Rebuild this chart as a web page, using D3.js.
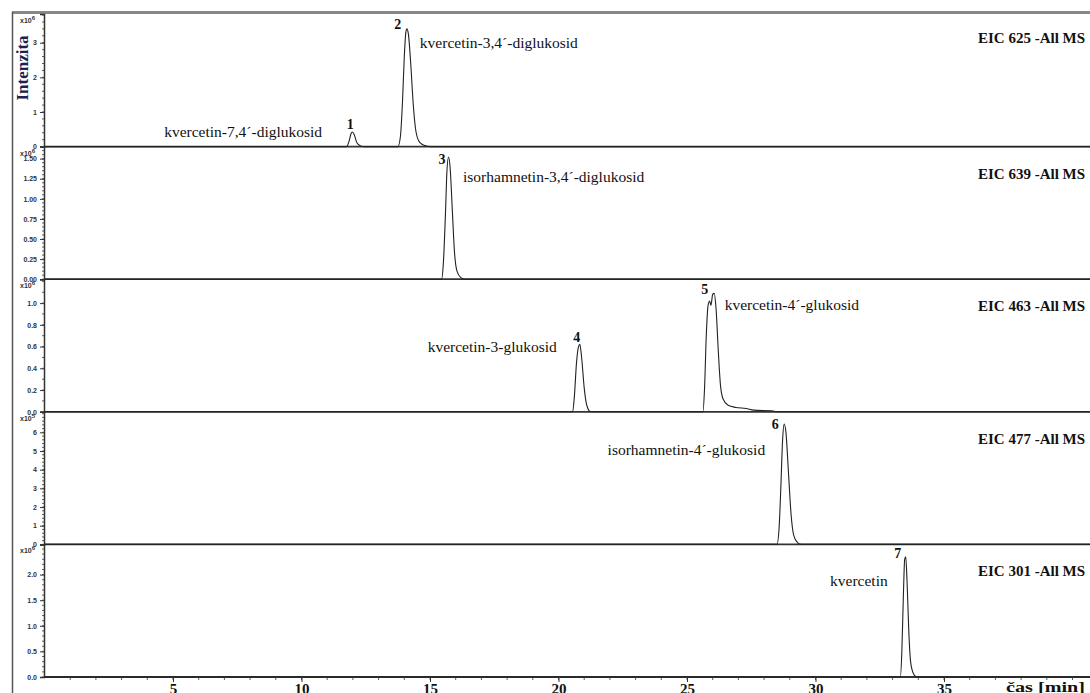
<!DOCTYPE html>
<html>
<head>
<meta charset="utf-8">
<script src="https://cdn.jsdelivr.net/npm/d3@7"></script>
<style>
  body { margin: 0; background: #fff; }
  svg { display: block; }
</style>
</head>
<body>
<div id="chart"></div>
<script>
// EIC traces, [time min, intensity in panel units]
const eic625 = [[0,0],[11.75,0],[11.85,0.15],[11.93,0.38],[11.98,0.42],[12.05,0.35],[12.15,0.12],[12.3,0.02],[12.45,0],
  [13.75,0],[13.85,0.3],[13.93,1.3],[14.0,2.6],[14.06,3.3],[14.1,3.4],[14.16,3.25],[14.25,2.4],[14.35,1.2],[14.45,0.45],[14.6,0.12],[14.8,0.03],[15.0,0],[41,0]];
const eic639 = [[0,0],[15.45,0],[15.52,0.2],[15.6,0.8],[15.66,1.35],[15.72,1.52],[15.78,1.4],[15.87,0.85],[15.95,0.35],[16.05,0.1],[16.2,0.02],[16.35,0],[41,0]];
const eic463 = [[0,0],[20.55,0],[20.62,0.15],[20.7,0.45],[20.78,0.6],[20.83,0.62],[20.9,0.5],[21.0,0.22],[21.1,0.06],[21.25,0],
  [25.62,0],[25.68,0.2],[25.75,0.7],[25.82,0.98],[25.88,1.02],[25.93,0.98],[26.0,1.08],[26.06,1.09],[26.13,0.95],[26.22,0.55],[26.3,0.25],[26.4,0.12],[26.6,0.06],[26.9,0.04],[27.3,0.03],[27.6,0.015],[28.3,0.01],[28.5,0],[41,0]];
const eic477 = [[0,0],[28.5,0],[28.58,0.8],[28.65,3.0],[28.72,5.6],[28.78,6.45],[28.85,6.0],[28.95,3.8],[29.05,1.6],[29.15,0.5],[29.3,0.1],[29.45,0],[41,0]];
const eic301 = [[0,0],[33.3,0],[33.36,0.5],[33.42,1.6],[33.47,2.3],[33.51,2.35],[33.56,1.9],[33.63,0.9],[33.7,0.3],[33.8,0.08],[33.95,0],[41,0]];

const traces = [eic625, eic639, eic463, eic477, eic301];
const eicTitles = ['EIC 625 -All MS', 'EIC 639 -All MS', 'EIC 463 -All MS', 'EIC 477 -All MS', 'EIC 301 -All MS'];
const yMaxes = [3.83, 1.65, 1.22, 7.1, 2.59];
const yMajorTicks = [[0,1,2,3], [0,0.25,0.5,0.75,1,1.25,1.5], [0,0.2,0.4,0.6,0.8,1.0], [0,1,2,3,4,5,6], [0,0.5,1,1.5,2]];
const yTickFormats = ['d', '.2f', '.1f', 'd', '.1f'];
const yMinorSteps = [0.2, 0.05, 0.1, 0.2, 0.1];
const exponents = ['6', '6', '6', '5', '6'];

// peaks
const peakNums = ['1','2','3','4','5','6','7'];
const peakPanels = [0, 0, 1, 2, 2, 3, 4];
const peakTimes = [11.97, 14.1, 15.72, 20.83, 26.0, 28.78, 33.51];
const peakValues = [0.42, 3.4, 1.52, 0.62, 1.09, 6.45, 2.35];
const peakNames = ['kvercetin-7,4´-diglukosid', 'kvercetin-3,4´-diglukosid', 'isorhamnetin-3,4´-diglukosid',
  'kvercetin-3-glukosid', 'kvercetin-4´-glukosid', 'isorhamnetin-4´-glukosid', 'kvercetin'];

const xTicks = [5, 10, 15, 20, 25, 30, 35];

// annotation placement relative to each peak apex (layout only)
const numOffset = [[-2,-3.5],[-9,0],[-6.5,7],[-3,-2.5],[-8,0.5],[-9,5],[-8,1]];
const nameOffset = [[-30,4.5],[13,19],[14.5,25],[-23,7.5],[12,16.5],[-19,31.5],[-18,29]];

const width = 1090, height = 693;
const plotLeft = 44, plotTop = 14, panelH = 132.6;
const serif = '"Liberation Serif", "Times New Roman", serif';
const sans = 'Arial, "Liberation Sans", sans-serif';

const svg = d3.select('#chart').append('svg')
  .attr('width', width)
  .attr('height', height);

svg.append('rect').attr('width', width).attr('height', height).attr('fill', '#fff');

const x = d3.scaleLinear().domain([0, 41]).range([plotLeft + 0.5, plotLeft + 0.5 + 41 * 25.7]);

// outer frame
svg.append('line').attr('x1', 12).attr('x2', width).attr('y1', 12.5).attr('y2', 12.5)
  .attr('stroke', '#888').attr('stroke-width', 3);
svg.append('line').attr('x1', 12.5).attr('x2', 12.5).attr('y1', 12).attr('y2', height)
  .attr('stroke', '#555').attr('stroke-width', 1.5);

const yScales = traces.map((data, i) => {
  const y0 = plotTop + panelH * (i + 1);
  return d3.scaleLinear().domain([0, yMaxes[i]]).range([y0, y0 - panelH]);
});

traces.forEach((data, i) => {
  const y = yScales[i];
  const y0 = y(0);
  const g = svg.append('g');

  // baseline / panel separator
  g.append('line').attr('x1', plotLeft).attr('x2', width).attr('y1', y0).attr('y2', y0)
    .attr('stroke', '#333').attr('stroke-width', 1.8);

  // y axis
  const axis = d3.axisLeft(y).tickValues(yMajorTicks[i]).tickSize(4).tickPadding(3)
    .tickFormat(d3.format(yTickFormats[i]));
  const ag = g.append('g').attr('transform', `translate(${plotLeft},0)`).call(axis);
  ag.select('.domain').attr('stroke', '#333').attr('stroke-width', 1.5);
  ag.selectAll('.tick line').attr('stroke', '#333');
  ag.selectAll('.tick text')
    .attr('font-family', sans)
    .attr('font-weight', 'bold').attr('font-size', 7).attr('fill', '#333');

  const minor = d3.range(0, yMaxes[i], yMinorSteps[i]);
  g.selectAll('.minor').data(minor).join('line')
    .attr('x1', plotLeft - 2).attr('x2', plotLeft)
    .attr('y1', d => y(d)).attr('y2', d => y(d))
    .attr('stroke', '#333').attr('stroke-width', 0.8);

  // exponent
  const ex = g.append('text').attr('x', 20).attr('y', y0 - panelH + 9)
    .attr('font-family', sans)
    .attr('font-weight', 'bold').attr('font-size', 7).attr('fill', '#333');
  ex.append('tspan').text('x10');
  ex.append('tspan').attr('dy', -3).attr('font-size', 6).text(exponents[i]);

  // trace
  const line = d3.line().x(d => x(d[0])).y(d => y(d[1])).curve(d3.curveMonotoneX);
  g.append('path').datum(data).attr('d', line)
    .attr('fill', 'none').attr('stroke', '#222').attr('stroke-width', 1.1);

  // EIC title
  g.append('text').attr('x', 978).attr('y', y0 - panelH + (i === 0 ? 29 : 32))
    .attr('font-family', serif).attr('font-weight', 'bold').attr('font-size', 15)
    .attr('fill', '#111').text(eicTitles[i]);
});

// peak annotations
peakNums.forEach((n, k) => {
  const y = yScales[peakPanels[k]];
  const px = x(peakTimes[k]), py = y(peakValues[k]);
  svg.append('text')
    .attr('x', px + numOffset[k][0]).attr('y', py + numOffset[k][1])
    .attr('text-anchor', 'middle')
    .attr('font-family', serif).attr('font-weight', 'bold').attr('font-size', 14)
    .attr('fill', '#111').text(n);
  const dx = nameOffset[k][0];
  svg.append('text')
    .attr('x', px + dx)
    .attr('y', py + nameOffset[k][1])
    .attr('text-anchor', dx > 0 ? 'start' : 'end')
    .attr('font-family', serif).attr('font-size', 15.5)
    .attr('fill', '#111').text(peakNames[k]);
});

// x axis at bottom
const xAxisPos = plotTop + panelH * 5;
const xg = svg.append('g').attr('transform', `translate(0,${xAxisPos})`)
  .call(d3.axisBottom(x).tickValues(xTicks).tickSize(5).tickPadding(1).tickFormat(d3.format('d')));
xg.select('.domain').remove();
xg.selectAll('.tick line').attr('stroke', '#333');
xg.selectAll('.tick text').attr('font-family', serif).attr('font-weight', 'bold')
  .attr('font-size', 15).attr('fill', '#111');
svg.selectAll('.xminor').data(d3.range(1, 41)).join('line')
  .attr('x1', d => x(d)).attr('x2', d => x(d))
  .attr('y1', xAxisPos).attr('y2', xAxisPos + 3)
  .attr('stroke', '#333').attr('stroke-width', 0.8);

svg.append('text').attr('x', 1006).attr('y', xAxisPos + 15)
  .attr('font-family', serif).attr('font-weight', 'bold').attr('font-size', 15)
  .attr('textLength', 79).attr('lengthAdjust', 'spacingAndGlyphs')
  .attr('fill', '#111').text('čas [min]');

// y title
svg.append('text')
  .attr('transform', 'translate(28,68) rotate(-90)')
  .attr('text-anchor', 'middle')
  .attr('font-family', serif).attr('font-weight', 'bold').attr('font-size', 17)
  .attr('fill', '#1c2150').text('Intenzita');
</script>
</body>
</html>
